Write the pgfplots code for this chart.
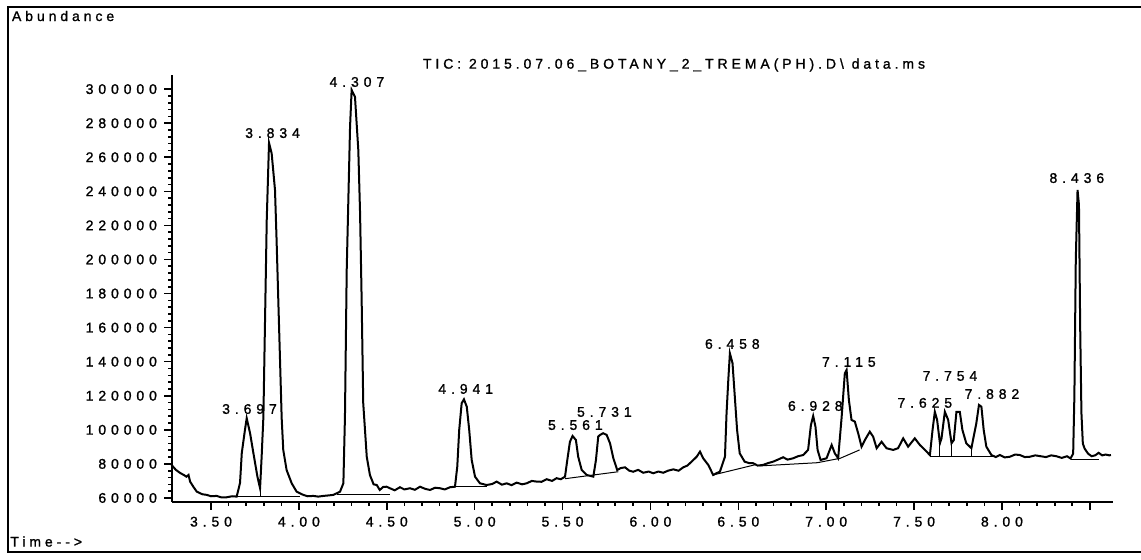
\documentclass[border=0pt]{standalone}
\usepackage{pgfplots}
\pgfplotsset{compat=1.18}
\usepackage{fontspec}
\setmainfont{Liberation Sans}
\newfontfamily\numfam[LetterSpace=35,FakeBold=1.2]{Liberation Sans}
\newfontfamily\txtfam[LetterSpace=28,FakeBold=1.2]{Liberation Sans}
\newcommand{\nf}{\numfam\fontsize{7}{8}\selectfont}
\newcommand{\tf}{\txtfam\fontsize{7}{8}\selectfont}
\begin{document}
\begin{tikzpicture}[x=1pt,y=1pt]
\useasboundingbox (0,0) rectangle (570.5,279.5);
\draw[line width=1pt] (570.5,276) -- (3.8,276) -- (3.8,3.7) -- (570.5,3.7);
\begin{axis}[at={(86pt,28.65pt)}, anchor=south west, scale only axis,
  width=470.35pt, height=213.35pt,
  xmin=3.278, xmax=8.63, ymin=57800, ymax=308300,
  axis x line=bottom, axis y line=left, axis line style={-, line width=1pt},
  tick align=outside, major tick length=4pt, minor tick length=2pt,
  tick style={black, line width=0.8pt},
  scaled y ticks=false, scaled x ticks=false,
  xtick={3.5,4,4.5,5,5.5,6,6.5,7,7.5,8,8.5},
  xticklabels={3.50,4.00,4.50,5.00,5.50,6.00,6.50,7.00,7.50,8.00,{}},
  minor x tick num=4,
  ytick={60000,80000,100000,120000,140000,160000,180000,200000,220000,240000,260000,280000,300000},
  yticklabels={60000,80000,100000,120000,140000,160000,180000,200000,220000,240000,260000,280000,300000},
  minor y tick num=4,
  ticklabel style={font=\nf},
  clip=false]
\addplot[black, line width=1pt] coordinates {
(3.275,79400) (3.300,76500) (3.324,74700) (3.345,73500) (3.360,72500) (3.372,73500)
(3.381,69600) (3.40,66500) (3.419,63700) (3.45,62200) (3.476,61800) (3.50,61000)
(3.532,61200) (3.56,60300) (3.589,60400) (3.62,61000) (3.646,60800) (3.665,68800)
(3.675,86400) (3.693,99900) (3.703,106800) (3.722,98100) (3.741,86400) (3.764,72500)
(3.779,65700) (3.788,84200) (3.798,107700) (3.817,223200) (3.830,268500) (3.845,262300)
(3.864,240800) (3.873,211400) (3.892,142900) (3.902,106800) (3.911,88200) (3.930,76400)
(3.959,68600) (3.987,63700) (4.025,61800) (4.05,61000) (4.082,61200) (4.11,60800)
(4.139,61200) (4.17,61500) (4.196,61800) (4.234,63700) (4.253,68600) (4.262,107700)
(4.272,193800) (4.291,277900) (4.300,299500) (4.319,295500) (4.338,264200) (4.348,227100)
(4.357,176200) (4.366,115600) (4.386,84200) (4.404,73500) (4.425,68000) (4.443,67600)
(4.46,64700) (4.48,66500) (4.499,66600) (4.518,65700) (4.545,64500) (4.575,66300)
(4.60,65000) (4.632,65700) (4.66,64800) (4.689,66600) (4.72,65300) (4.746,64700)
(4.775,66000) (4.803,65700) (4.83,65000) (4.860,66300) (4.888,66600) (4.901,78400)
(4.912,99900) (4.926,115600) (4.939,117900) (4.955,113600) (4.969,99900) (4.983,82300)
(5.002,72500) (5.030,68600) (5.068,67600) (5.10,68200) (5.125,69600) (5.155,67800)
(5.182,68600) (5.21,67500) (5.239,69000) (5.27,68000) (5.296,68600) (5.325,70000)
(5.353,69600) (5.38,69500) (5.410,71000) (5.44,70000) (5.466,71600) (5.49,71000)
(5.514,72500) (5.527,82300) (5.542,93000) (5.557,96400) (5.576,94000) (5.589,84200)
(5.609,76400) (5.637,73500) (5.675,72500) (5.690,82300) (5.703,96000) (5.713,97000)
(5.731,98000) (5.751,97000) (5.770,92100) (5.789,83300) (5.811,76400) (5.83,77500)
(5.855,78000) (5.88,76000) (5.902,75400) (5.93,76500) (5.959,74800) (5.99,75500)
(6.016,74500) (6.045,75500) (6.073,74800) (6.10,76000) (6.130,76800) (6.16,76000)
(6.187,78000) (6.21,79000) (6.234,81300) (6.263,84200) (6.282,87200) (6.300,83300)
(6.329,79400) (6.357,73500) (6.375,74500) (6.395,75400) (6.424,84200) (6.433,109700)
(6.443,129300) (6.452,144900) (6.467,139100) (6.480,119500) (6.493,99900) (6.508,86200)
(6.536,81300) (6.56,80500) (6.584,80400) (6.61,79000) (6.641,79400) (6.67,80500)
(6.698,81300) (6.725,82500) (6.755,83900) (6.78,82500) (6.812,83300) (6.84,84500)
(6.869,85200) (6.897,88200) (6.913,102800) (6.926,108100) (6.939,101800) (6.951,88200)
(6.968,82300) (7.002,83300) (7.031,91100) (7.049,86200) (7.068,83300) (7.088,107700)
(7.106,133200) (7.116,135100) (7.129,117500) (7.144,105800) (7.163,104800) (7.182,97900)
(7.201,90100) (7.220,94000) (7.248,98900) (7.267,96000) (7.287,89200) (7.315,93000)
(7.343,89200) (7.381,88200) (7.409,89200) (7.438,95000) (7.466,90100) (7.504,95000)
(7.533,91100) (7.571,87200) (7.590,85200) (7.605,99900) (7.618,110600) (7.631,105800)
(7.647,92100) (7.656,95000) (7.675,110600) (7.694,105800) (7.713,92100) (7.726,94000)
(7.741,110600) (7.760,110600) (7.775,99900) (7.797,92100) (7.826,89200) (7.854,103800)
(7.869,114600) (7.883,113600) (7.896,99900) (7.911,90100) (7.940,85200) (7.965,84000)
(7.988,85200) (8.015,83800) (8.045,84200) (8.075,85500) (8.102,85200) (8.13,84000)
(8.159,84200) (8.19,85000) (8.22,84500) (8.25,84000) (8.28,85000) (8.31,84500)
(8.34,83500) (8.37,84500) (8.39,83200) (8.405,86000) (8.412,120000) (8.42,200000)
(8.430,240800) (8.438,232000) (8.445,160000) (8.452,110000) (8.46,92000) (8.47,89000)
(8.49,86000) (8.51,84500) (8.53,85000) (8.55,86500) (8.57,85000) (8.59,85500)
(8.61,85000) (8.62,85200)
};
% integration baselines
\addplot[black, line width=0.5pt] coordinates {(3.646,60800) (4.006,60800)};
\addplot[black, line width=0.5pt] coordinates {(3.779,65700) (3.779,60800)};
\addplot[black, line width=0.5pt] coordinates {(4.215,61800) (4.52,61800)};
\addplot[black, line width=0.5pt] coordinates {(4.888,66600) (5.07,66600)};
\addplot[black, line width=0.5pt] coordinates {(5.514,71300) (5.817,75400)};
\addplot[black, line width=0.5pt] coordinates {(6.357,73500) (6.60,79600)};
\addplot[black, line width=0.5pt] coordinates {(6.62,78800) (6.95,80700) (7.08,83300) (7.19,88200)};
\addplot[black, line width=0.5pt] coordinates {(7.59,84200) (7.95,84200)};
\addplot[black, line width=0.5pt] coordinates {(7.647,92100) (7.647,84200)};
\addplot[black, line width=0.5pt] coordinates {(7.713,92100) (7.713,84200)};
\addplot[black, line width=0.5pt] coordinates {(7.826,89200) (7.826,84200)};
\addplot[black, line width=0.5pt] coordinates {(8.39,82300) (8.55,82300)};
% peak labels
\node[font=\nf] at (axis cs:3.719,112200) {3.697};
\node[font=\nf] at (axis cs:3.850,274200) {3.834};
\node[font=\nf] at (axis cs:4.330,304200) {4.307};
\node[font=\nf] at (axis cs:4.949,124000) {4.941};
\node[font=\nf] at (axis cs:5.573,102800) {5.561};
\node[font=\nf] at (axis cs:5.738,110500) {5.731};
\node[font=\nf] at (axis cs:6.466,150400) {6.458};
\node[font=\nf] at (axis cs:6.938,114000) {6.928};
\node[font=\nf] at (axis cs:7.129,139800) {7.115};
\node[font=\nf] at (axis cs:7.704,131600) {7.754};
\node[font=\nf] at (axis cs:7.561,115800) {7.625};
\node[font=\nf] at (axis cs:7.943,121000) {7.882};
\node[font=\nf] at (axis cs:8.426,247800) {8.436};
\end{axis}
\node[font=\tf] at (337,247) {TIC: 2015.07.06\_BOTANY\_2\_TREMA(PH).D\textbackslash{} data.ms};
\node[font=\tf, anchor=west, inner sep=0pt] at (5.8,271.5) {Abundance};
\node[font=\tf, anchor=west, inner sep=0pt] at (5,8.7) {Time-->};
\end{tikzpicture}
\end{document}
